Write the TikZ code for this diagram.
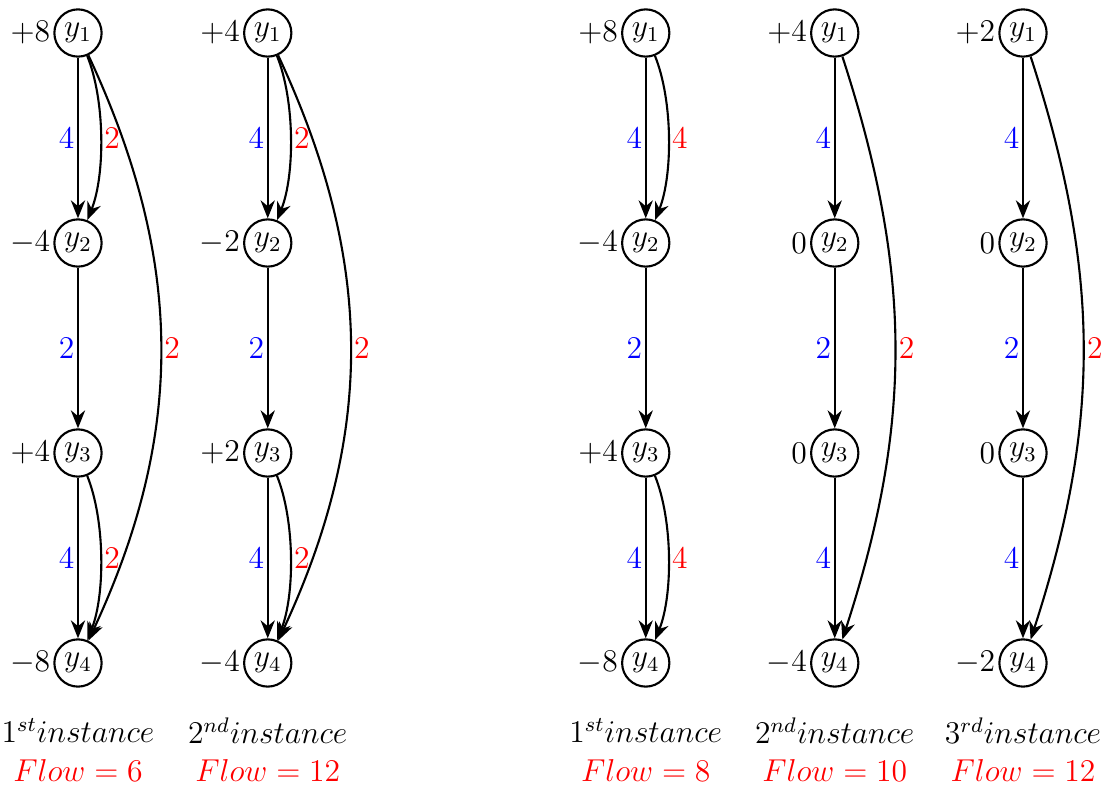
\documentclass[tikz,border=0pt]{standalone}
\usetikzlibrary{arrows.meta}
\tikzset{
  >={Stealth[length=2.4mm,width=1.9mm]},
  vtx/.style={circle, draw, thick, minimum size=6.3mm, inner sep=0pt},
  val/.style={inner sep=1pt},
  edgearc/.style={->, thick},
  shortbend/.style={bend left=22, looseness=0.75},
  longbend/.style={bend left=25},
  flatbend/.style={bend left=18},
  capl/.style={left, text=blue, inner sep=1pt},
  resl/.style={right, text=red, inner sep=1pt},
  instl/.style={inner sep=0pt},
  flowl/.style={inner sep=0pt, text=red}
}
\begin{document}
\begin{tikzpicture}[x=1cm,y=1cm,font=\large]
\useasboundingbox (-1.04,0.44) rectangle (13.787,-10.12);

% first group, 1st instance
\node[vtx, label={[val]left:$+8$}] (a1) at (0,0) {$y_1$};
\node[vtx, label={[val]left:$-4$}] (a2) at (0,-2.8) {$y_2$};
\node[vtx, label={[val]left:$+4$}] (a3) at (0,-5.6) {$y_3$};
\node[vtx, label={[val]left:$-8$}] (a4) at (0,-8.4) {$y_4$};
\draw[edgearc] (a1) -- node[capl] {4} (a2);
\draw[edgearc] (a1) to[shortbend] node[resl] {2} (a2);
\draw[edgearc] (a2) -- node[capl] {2} (a3);
\draw[edgearc] (a3) -- node[capl] {4} (a4);
\draw[edgearc] (a3) to[shortbend] node[resl] {2} (a4);
\draw[edgearc] (a1) to[longbend] node[resl] {2} (a4);
\node[instl] (ia) at (0,-9.3) {$1^{st} instance$};
\node[flowl] (fa) at (0,-9.83) {$Flow=6$};

% first group, 2nd instance
\node[vtx, label={[val]left:$+4$}] (b1) at (2.53,0) {$y_1$};
\node[vtx, label={[val]left:$-2$}] (b2) at (2.53,-2.8) {$y_2$};
\node[vtx, label={[val]left:$+2$}] (b3) at (2.53,-5.6) {$y_3$};
\node[vtx, label={[val]left:$-4$}] (b4) at (2.53,-8.4) {$y_4$};
\draw[edgearc] (b1) -- node[capl] {4} (b2);
\draw[edgearc] (b1) to[shortbend] node[resl] {2} (b2);
\draw[edgearc] (b2) -- node[capl] {2} (b3);
\draw[edgearc] (b3) -- node[capl] {4} (b4);
\draw[edgearc] (b3) to[shortbend] node[resl] {2} (b4);
\draw[edgearc] (b1) to[longbend] node[resl] {2} (b4);
\node[instl] (ib) at (2.53,-9.3) {$2^{nd} instance$};
\node[flowl] (fb) at (2.53,-9.83) {$Flow=12$};

% second group, 1st instance
\node[vtx, label={[val]left:$+8$}] (c1) at (7.57,0) {$y_1$};
\node[vtx, label={[val]left:$-4$}] (c2) at (7.57,-2.8) {$y_2$};
\node[vtx, label={[val]left:$+4$}] (c3) at (7.57,-5.6) {$y_3$};
\node[vtx, label={[val]left:$-8$}] (c4) at (7.57,-8.4) {$y_4$};
\draw[edgearc] (c1) -- node[capl] {4} (c2);
\draw[edgearc] (c1) to[shortbend] node[resl] {4} (c2);
\draw[edgearc] (c2) -- node[capl] {2} (c3);
\draw[edgearc] (c3) -- node[capl] {4} (c4);
\draw[edgearc] (c3) to[shortbend] node[resl] {4} (c4);
\node[instl] (ic) at (7.57,-9.3) {$1^{st} instance$};
\node[flowl] (fc) at (7.57,-9.83) {$Flow=8$};

% second group, 2nd instance
\node[vtx, label={[val]left:$+4$}] (d1) at (10.09,0) {$y_1$};
\node[vtx, label={[val]left:$0$}] (d2) at (10.09,-2.8) {$y_2$};
\node[vtx, label={[val]left:$0$}] (d3) at (10.09,-5.6) {$y_3$};
\node[vtx, label={[val]left:$-4$}] (d4) at (10.09,-8.4) {$y_4$};
\draw[edgearc] (d1) -- node[capl] {4} (d2);
\draw[edgearc] (d2) -- node[capl] {2} (d3);
\draw[edgearc] (d3) -- node[capl] {4} (d4);
\draw[edgearc] (d1) to[flatbend] node[resl] {2} (d4);
\node[instl] (id) at (10.09,-9.3) {$2^{nd} instance$};
\node[flowl] (fd) at (10.09,-9.83) {$Flow=10$};

% second group, 3rd instance
\node[vtx, label={[val]left:$+2$}] (e1) at (12.6,0) {$y_1$};
\node[vtx, label={[val]left:$0$}] (e2) at (12.6,-2.8) {$y_2$};
\node[vtx, label={[val]left:$0$}] (e3) at (12.6,-5.6) {$y_3$};
\node[vtx, label={[val]left:$-2$}] (e4) at (12.6,-8.4) {$y_4$};
\draw[edgearc] (e1) -- node[capl] {4} (e2);
\draw[edgearc] (e2) -- node[capl] {2} (e3);
\draw[edgearc] (e3) -- node[capl] {4} (e4);
\draw[edgearc] (e1) to[flatbend] node[resl] {2} (e4);
\node[instl] (ie) at (12.6,-9.3) {$3^{rd} instance$};
\node[flowl] (fe) at (12.6,-9.83) {$Flow=12$};

\end{tikzpicture}
\end{document}
